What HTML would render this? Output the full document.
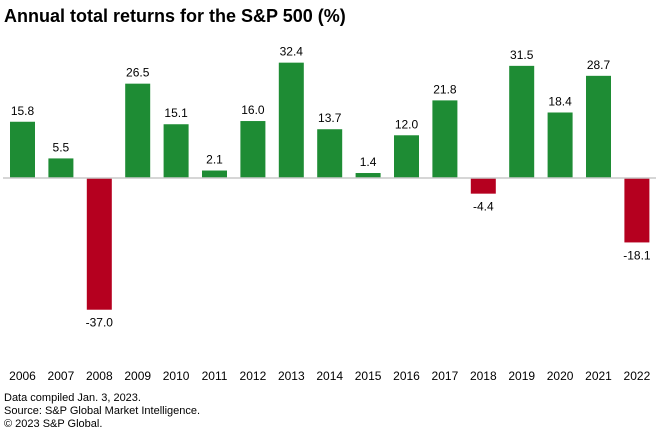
<!DOCTYPE html>
<html><head><meta charset="utf-8"><style>
body{margin:0;background:#fff;font-family:"Liberation Sans",sans-serif;}
#wrap{position:relative;width:660px;height:442px;overflow:hidden}
.title{position:absolute;left:4px;top:6px;font-size:18px;font-weight:bold;color:#000}
.foot{position:absolute;left:4px;font-size:11px;color:#000}
</style></head><body>
<div id="wrap">
<div class="title">Annual total returns for the S&amp;P 500 (%)</div>
<svg id="svg" width="660" height="442" style="position:absolute;left:0;top:0"></svg>
<div class="foot" style="top:392px">Data compiled Jan. 3, 2023.</div>
<div class="foot" style="top:405px">Source: S&amp;P Global Market Intelligence.</div>
<div class="foot" style="top:418px">© 2023 S&amp;P Global.</div>
</div>
<script>
const years=["2006","2007","2008","2009","2010","2011","2012","2013","2014","2015","2016","2017","2018","2019","2020","2021","2022"];
const returns=[15.8,5.5,-37.0,26.5,15.1,2.1,16.0,32.4,13.7,1.4,12.0,21.8,-4.4,31.5,18.4,28.7,-18.1];
const svg=document.getElementById('svg');
const NS='http://www.w3.org/2000/svg';
const zeroY=178, scale=3.56, x0=22.5, step=38.4, bw=25;
const y=v=>zeroY-v*scale;
const xc=i=>x0+i*step;
function mk(t,a){const e=document.createElementNS(NS,t);for(const k in a)e.setAttribute(k,a[k]);svg.appendChild(e);return e;}
returns.forEach((v,i)=>{
  const r=mk('rect',{x:xc(i)-bw/2,y:Math.min(y(v),zeroY),width:bw,height:Math.abs(y(v)-zeroY),fill:v>=0?'#1e8c34':'#b5001f'});
  
  
  const t=mk('text',{x:xc(i),y:v>=0?y(v)-7:y(v)+17,'text-anchor':'middle','font-size':12,fill:'#000'});
  t.textContent=v.toFixed(1);
  
  
  const yl=mk('text',{x:xc(i),y:380,'text-anchor':'middle','font-size':12,fill:'#000'});
  yl.textContent=years[i];
  
  
});
const ax=mk('line',{x1:3,x2:656,y1:zeroY,y2:zeroY,stroke:'#c8c8c8','stroke-width':1.5});


</script>
</body></html>
